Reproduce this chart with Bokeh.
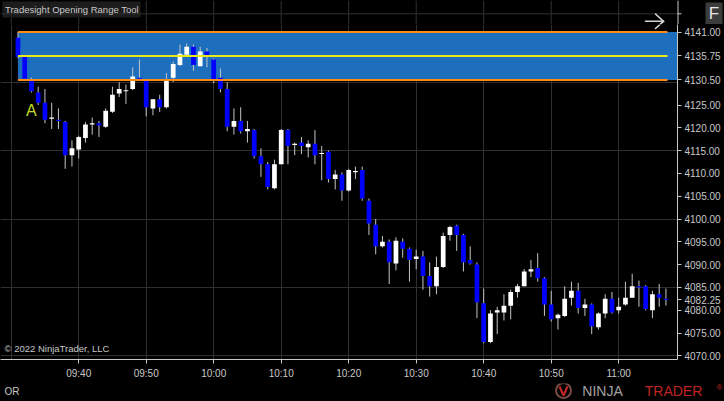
import numpy as np
from bokeh.plotting import figure
from bokeh.layouts import column
from bokeh.models import (ColumnDataSource, FixedTicker, Label, PrintfTickFormatter,
                          Range1d, GlobalInlineStyleSheet, Plot)
from bokeh.core.properties import value
from bokeh.embed import file_html
from bokeh.resources import INLINE

# ---------------- data ----------------
# bar position = minutes after 09:30 (1-minute bars, close time 09:31 .. 11:07)
bar_minute = list(range(1, 98))
opens = [4139.75, 4135.5, 4130.25, 4127.75, 4125.5, 4122.0, 4121.75, 4121.25, 4114.0, 4115.25,
         4117.75, 4120.75, 4121.0, 4120.25, 4123.5, 4127.5, 4128.0, 4128.5, 4131.0, 4130.25,
         4124.25, 4126.25, 4124.5, 4131.0, 4133.75, 4136.0, 4137.75, 4133.5, 4136.75, 4135.0,
         4131.0, 4128.5, 4120.25, 4121.5, 4119.25, 4119.5, 4113.75, 4112.0, 4106.75, 4112.0,
         4119.5, 4116.25, 4116.75, 4115.75, 4116.5, 4114.25, 4114.75, 4108.75, 4109.75, 4106.25,
         4110.25, 4110.75, 4104.0, 4098.75, 4094.0, 4095.0, 4090.25, 4095.0, 4093.5, 4091.25,
         4091.75, 4087.5, 4085.25, 4089.5, 4096.5, 4098.5, 4096.5, 4091.0, 4090.0, 4081.5,
         4073.0, 4079.5, 4079.5, 4081.0, 4084.0, 4085.25, 4088.5, 4089.25, 4087.0, 4081.25,
         4078.25, 4078.75, 4082.75, 4084.25, 4080.5, 4081.25, 4076.25, 4079.25, 4082.5, 4080.0,
         4081.25, 4082.75, 4085.25, 4085.25, 4080.0, 4083.5, 4082.5]
highs = [4141.0, 4136.0, 4131.0, 4129.0, 4128.5, 4125.5, 4124.25, 4121.5, 4117.25, 4118.25,
         4121.25, 4122.25, 4121.5, 4124.25, 4129.0, 4130.0, 4129.5, 4133.25, 4135.0, 4130.5,
         4126.25, 4127.25, 4132.0, 4134.5, 4138.25, 4138.5, 4138.25, 4137.75, 4137.5, 4135.25,
         4133.0, 4130.0, 4124.25, 4124.5, 4121.5, 4119.75, 4115.5, 4112.5, 4113.0, 4119.75,
         4119.75, 4116.75, 4118.0, 4117.25, 4119.5, 4116.0, 4115.0, 4110.75, 4110.25, 4111.0,
         4111.5, 4111.5, 4104.5, 4100.0, 4096.25, 4095.5, 4096.0, 4095.75, 4093.75, 4093.25,
         4093.0, 4090.5, 4091.75, 4097.0, 4098.5, 4098.75, 4096.75, 4094.0, 4090.5, 4084.75,
         4080.0, 4080.75, 4083.5, 4084.5, 4085.75, 4089.0, 4091.0, 4092.5, 4087.25, 4084.25,
         4079.25, 4085.25, 4086.25, 4086.0, 4082.5, 4081.5, 4079.5, 4083.5, 4084.0, 4082.75,
         4086.25, 4088.0, 4086.5, 4085.5, 4084.25, 4085.75, 4084.75]
lows = [4135.25, 4130.5, 4127.75, 4125.0, 4121.0, 4119.75, 4119.75, 4111.0, 4111.5, 4113.25,
        4116.75, 4118.5, 4118.0, 4120.0, 4123.25, 4126.75, 4125.25, 4128.25, 4130.5, 4122.5,
        4122.75, 4123.5, 4124.25, 4130.0, 4133.5, 4135.75, 4132.5, 4133.5, 4133.25, 4129.75,
        4127.75, 4119.25, 4118.5, 4118.75, 4116.75, 4113.25, 4109.25, 4106.5, 4106.5, 4112.0,
        4112.0, 4114.0, 4114.25, 4113.5, 4112.0, 4108.5, 4108.0, 4106.5, 4104.0, 4106.0,
        4108.75, 4104.0, 4096.5, 4092.25, 4093.75, 4085.75, 4088.75, 4091.5, 4086.25, 4089.0,
        4084.5, 4083.0, 4083.5, 4089.25, 4095.25, 4093.0, 4088.5, 4090.0, 4078.25, 4072.75,
        4072.75, 4074.75, 4077.75, 4078.0, 4082.75, 4085.25, 4087.25, 4086.25, 4078.75, 4077.5,
        4075.75, 4078.5, 4081.0, 4079.25, 4078.75, 4074.75, 4075.75, 4078.25, 4079.25, 4079.25,
        4081.0, 4082.75, 4080.75, 4080.0, 4078.25, 4080.75, 4081.0]
closes = [4135.5, 4130.75, 4128.0, 4125.5, 4121.75, 4122.25, 4121.5, 4114.0, 4115.5, 4118.0,
          4120.75, 4121.0, 4120.5, 4123.75, 4127.25, 4128.5, 4128.25, 4131.25, 4130.75, 4124.5,
          4126.25, 4124.5, 4130.5, 4134.0, 4136.25, 4137.75, 4133.75, 4136.75, 4135.75, 4130.5,
          4128.5, 4120.25, 4121.5, 4119.25, 4119.75, 4113.75, 4112.0, 4107.0, 4112.0, 4119.5,
          4116.0, 4116.5, 4116.0, 4116.5, 4114.0, 4114.5, 4108.75, 4109.75, 4106.25, 4110.75,
          4110.5, 4104.5, 4099.0, 4094.0, 4095.0, 4090.5, 4095.25, 4093.5, 4091.0, 4091.75,
          4087.5, 4085.25, 4089.5, 4096.25, 4098.25, 4096.5, 4090.5, 4090.25, 4081.75, 4073.0,
          4079.25, 4080.0, 4081.0, 4084.0, 4085.25, 4088.5, 4089.0, 4087.0, 4081.25, 4078.0,
          4079.0, 4082.5, 4084.25, 4080.5, 4081.25, 4076.5, 4079.25, 4082.5, 4079.5, 4080.75,
          4082.75, 4085.25, 4085.0, 4080.25, 4083.5, 4082.75, 4082.25]

or_bars = 2                      # opening range = first two 1-minute bars
signal_bar = 3                   # bar where the "A" signal printed
signal_text = "A"

tick_minutes = [10, 20, 30, 40, 50, 60, 70, 80, 90]
tick_labels = ["09:40", "09:50", "10:00", "10:10", "10:20", "10:30", "10:40", "10:50", "11:00"]
grid_minutes = [0, 10, 20, 30, 40, 50, 60, 70, 80, 90]
price_ticks = [4070, 4075, 4080, 4085, 4090, 4095, 4100, 4105, 4110, 4115, 4120, 4125]
price_grid = [4070, 4085, 4100, 4115, 4130, 4145]

# ---------------- style / layout ----------------
BG = "#000000"
UP = "#ffffff"
DOWN = "#0000ff"
WICK = "#c4c4c4"
GRID = "#303030"
AXIS = "#c8c8c8"
TXT = "#c8c8c8"
OR_FILL = "#1e6ebe"
OR_EDGE = "#ff8a14"
OR_MID = "#e8e81a"
FONT = "Liberation Sans"

W = 724
TOP_H, MAIN_H, BOT_H = 24, 359, 18      # stacked strips: 24 + 359 + 18 = 401
FRAME_R = 677                           # right edge of price frame (px)
FRAME_B = 359                           # bottom of price frame (px from page top)
HAS_FRAME_ALIGN = "frame_align" in Plot.properties()

# "go to latest bar" arrow icon, in page pixels (shaft + two head strokes)
ARROW_X0, ARROW_Y0 = [645, 655, 655], [20.8, 13.5, 28.0]
ARROW_X1, ARROW_Y1 = [663, 663, 663], [20.8, 20.8, 20.8]


def x_of(px):  # page pixel -> minutes
    return (px - 10.7) / 6.75


def y_of(py):  # page pixel -> price
    return 4070 + (355.3 - py) / 4.56


def strip(height, xr, yr):
    f = figure(width=W, height=height, output_backend="svg", toolbar_location=None,
               x_range=xr, y_range=yr, x_axis_location=None, y_axis_location=None,
               min_border_left=0, min_border_right=0, min_border_top=0, min_border_bottom=0)
    if HAS_FRAME_ALIGN:
        f.frame_align = False
    f.background_fill_color = BG
    f.border_fill_color = BG
    f.outline_line_color = None
    f.grid.visible = False
    return f


def draw_arrow(fig):
    fig.segment(x0=[x_of(v) for v in ARROW_X0], y0=[y_of(v) for v in ARROW_Y0],
                x1=[x_of(v) for v in ARROW_X1], y1=[y_of(v) for v in ARROW_Y1],
                line_color="#d4d4d4", line_width=1.6, line_cap="round")


# ---------------- main price panel ----------------
p = figure(width=W, height=MAIN_H, output_backend="svg", toolbar_location=None,
           x_range=Range1d(x_of(0), x_of(FRAME_R)),
           y_range=Range1d(y_of(FRAME_B), y_of(TOP_H)),
           y_axis_location="right", min_border_left=0, min_border_top=0,
           min_border_right=W - FRAME_R, min_border_bottom=TOP_H + MAIN_H - FRAME_B)
if HAS_FRAME_ALIGN:
    p.frame_align = False
p.stylesheets = [GlobalInlineStyleSheet(css="body{background:#000000;}")]
p.background_fill_color = BG
p.border_fill_color = BG
p.outline_line_color = None

p.xgrid.ticker = FixedTicker(ticks=grid_minutes)
p.ygrid.ticker = FixedTicker(ticks=price_grid)
for g in (p.xgrid, p.ygrid):
    g.grid_line_color = GRID
    g.grid_line_width = 1

or_high = max(highs[:or_bars])
or_low = min(lows[:or_bars])
or_mid = (or_high + or_low) / 2

xa = p.xaxis[0]
xa.ticker = FixedTicker(ticks=tick_minutes)
xa.major_label_overrides = {m: l for m, l in zip(tick_minutes, tick_labels)}
ya = p.yaxis[0]
ya.ticker = FixedTicker(ticks=price_ticks + [or_low, or_mid, or_high, closes[-1]])
ya.formatter = PrintfTickFormatter(format="%.2f")
for ax in (xa, ya):
    ax.axis_line_color = AXIS
    ax.major_tick_line_color = AXIS
    ax.minor_tick_line_color = None
    ax.major_tick_in = 0
    ax.major_tick_out = 4
    ax.major_label_text_color = TXT
    ax.major_label_text_font = FONT
    ax.major_label_text_font_size = "10px"
xa.major_label_standoff = 4
ya.major_label_standoff = 3

# opening range box
p.quad(left=[bar_minute[0]], right=[x_of(FRAME_R)], top=[or_high], bottom=[or_low],
       fill_color=OR_FILL, line_color=None)

# candles
o, h, l, c = map(np.array, (opens, highs, lows, closes))
src = ColumnDataSource(dict(x=bar_minute, h=h, l=l,
                            top=np.maximum(o, c), bot=np.minimum(o, c),
                            color=np.where(c >= o, UP, DOWN)))
p.segment(x0="x", y0="l", x1="x", y1="h", source=src, line_color=WICK, line_width=1)
p.vbar(x="x", width=0.7, top="top", bottom="bot", fill_color="color",
       line_color=None, source=src)

# opening range lines
p.segment(x0=[bar_minute[0]] * 3, x1=[x_of(FRAME_R - 10)] * 3, y0=[or_high, or_mid, or_low],
          y1=[or_high, or_mid, or_low], line_color=[OR_EDGE, OR_MID, OR_EDGE], line_width=2)

# signal marker
p.text(x=[bar_minute[signal_bar - 1]], y=[lows[signal_bar - 1] - 4.0], text=[signal_text],
       text_color="#c4d82a", text_font=value(FONT), text_font_size="16px",
       text_align="center", text_baseline="middle")

p.add_layout(Label(x=x_of(4), y=y_of(348), text="\u00a9 2022 NinjaTrader, LLC",
                   text_font=FONT, text_font_size="9.5px", text_color=TXT,
                   text_align="left", text_baseline="middle"))
draw_arrow(p)

# ---------------- top strip (title, arrow, F button) ----------------
top = strip(TOP_H, Range1d(x_of(0), x_of(W)), Range1d(y_of(TOP_H), y_of(0)))
top.segment(x0=grid_minutes, x1=grid_minutes, y0=[y_of(TOP_H)] * len(grid_minutes),
            y1=[y_of(0)] * len(grid_minutes), line_color=GRID, line_width=1)
top.quad(left=[x_of(2)], right=[x_of(140)], top=[y_of(1)], bottom=[y_of(17)],
         fill_color="#1c1c1c", line_color=None)
top.segment(x0=[x_of(0)], x1=[x_of(FRAME_R)], y0=[price_grid[-1]], y1=[price_grid[-1]],
            line_color=GRID, line_width=1)
top.segment(x0=[x_of(FRAME_R + 0.5)], x1=[x_of(FRAME_R + 0.5)], y0=[y_of(TOP_H)], y1=[y_of(0)],
            line_color=AXIS, line_width=1)
top.segment(x0=[x_of(FRAME_R)], x1=[x_of(FRAME_R + 4)], y0=[price_grid[-1]], y1=[price_grid[-1]],
            line_color=AXIS, line_width=1)
top.text(x=[x_of(4.5)], y=[y_of(9)], text=["Tradesight Opening Range Tool"],
         text_font=value(FONT), text_font_size="9.5px", text_color=TXT,
         text_align="left", text_baseline="middle")
draw_arrow(top)
top.quad(left=[x_of(705)], right=[x_of(722)], top=[y_of(2)], bottom=[y_of(24)],
         fill_color="#3c3c3c", line_color=None)
top.text(x=[x_of(713.5)], y=[y_of(13)], text=["F"], text_font=value(FONT),
         text_font_size="17px", text_color="#e6e6e6", text_align="center",
         text_baseline="middle")

# ---------------- bottom strip (OR, logo) ----------------
bot = strip(BOT_H, Range1d(0, W), Range1d(BOT_H, 0))
bot.text(x=[4], y=[8], text=["OR"], text_font=value(FONT), text_font_size="10px",
         text_color=TXT, text_align="left", text_baseline="middle")
bot.circle(x=[563], y=[7], radius=7.5, fill_color=None, line_color="#7a4a44", line_width=2)
bot.segment(x0=[559, 563], y0=[3, 12], x1=[563, 567], y1=[12, 3], line_color="#d02828",
            line_width=2)
bot.text(x=[602], y=[7], text=["NINJA"], text_font=value(FONT), text_font_size="14px",
         text_color="#a0a0a0", text_align="center", text_baseline="middle")
bot.text(x=[673], y=[7], text=["TRADER"], text_font=value(FONT), text_font_size="14px",
         text_color="#c02424", text_align="center", text_baseline="middle")
bot.text(x=[716], y=[4], text=["\u00ae"], text_font=value(FONT), text_font_size="8px",
         text_color="#c02424", text_align="left", text_baseline="middle")

layout = column(top, p, bot, spacing=0)
open("out.html", "w").write(file_html(layout, INLINE))
